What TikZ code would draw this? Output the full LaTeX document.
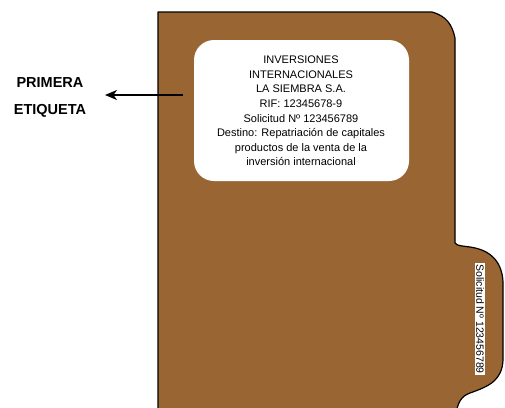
\documentclass[tikz,border=0pt]{standalone}
\usepackage{fontspec}
\setmainfont{Liberation Sans}
\usetikzlibrary{arrows.meta}
\definecolor{folderbrown}{HTML}{996633}
\begin{document}
\begin{tikzpicture}[x=1pt,y=-1pt,
  bodytext/.style={font=\fontsize{11}{14.6}\selectfont, align=center, inner sep=0pt},
  labeltext/.style={font=\fontsize{14.5}{27}\selectfont\bfseries, align=center, inner sep=0pt},
  tabtext/.style={font=\fontsize{10.5}{12}\selectfont, fill=white, inner sep=1pt, rotate=-90},
  folderline/.style={draw=black, line width=1.2pt, fill=folderbrown, line join=round}]
\useasboundingbox (0,0) rectangle (505,407);
\begin{scope}
\clip (0,0) rectangle (505,407);
\path[folderline] (158,420) -- (158,12) -- (432,12)
  .. controls (446,16) and (452,24) .. (455,38)
  -- (455,243)
  .. controls (457,246) and (463,246) .. (470,247)
  .. controls (491,250) and (502,262) .. (503,282)
  -- (503,360)
  .. controls (502,380) and (490,386) .. (470,393)
  .. controls (462,396) and (457,401) .. (455,420);
\end{scope}
\node[fill=white, rounded corners=20pt, minimum width=215pt, minimum height=141pt, inner sep=0pt] (card) at (301.5,110.5) {};
\node[bodytext] (cardtext) at (301,111) {INVERSIONES\\INTERNACIONALES\\LA SIEMBRA S.A.\\RIF: 12345678-9\\Solicitud Nº 123456789\\Destino: Repatriación de capitales\\productos de la venta de la\\inversión internacional};
\node[tabtext] (tab) at (480,319) {Solicitud Nº 123456789};
\node[labeltext] (lbl) at (50,97) {PRIMERA\\ETIQUETA};
\coordinate (astart) at (183,95);
\coordinate (atip) at (105,95);
\draw[line width=1.3pt, -{Stealth[length=12pt,width=10pt,inset=3.5pt]}] (astart) -- (atip);
\end{tikzpicture}
\end{document}
